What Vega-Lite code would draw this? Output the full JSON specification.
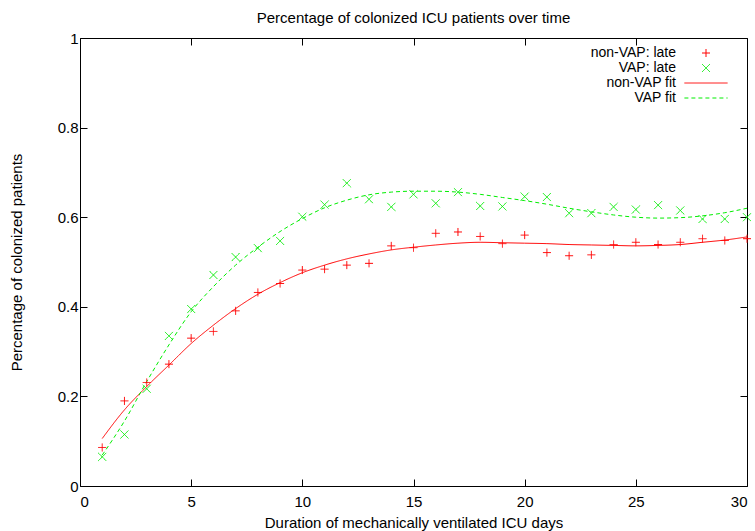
{
  "$schema": "https://vega.github.io/schema/vega-lite/v6.json",
  "width": 667,
  "height": 448,
  "autosize": {"type": "none"},
  "padding": {"left": 80, "top": 38, "right": 8, "bottom": 45},
  "background": "white",
  "config": {
    "font": "Liberation Sans",
    "view": {"stroke": "#000000", "strokeWidth": 1},
    "axis": {"grid": false, "domain": false, "tickColor": "#000000", "tickWidth": 1, "labelColor": "#000000", "titleColor": "#000000", "labelFontSize": 15, "titleFontSize": 15, "titleFontWeight": "normal", "labelFont": "Liberation Sans", "titleFont": "Liberation Sans"}
  },
  "title": {"text": "Percentage of colonized ICU patients over time", "fontSize": 15, "fontWeight": "normal", "color": "#000000", "font": "Liberation Sans", "offset": 5},
  "datasets": {
    "obs": [
      {"day": 1, "series": "non-VAP: late", "value": 0.086},
      {"day": 2, "series": "non-VAP: late", "value": 0.190},
      {"day": 3, "series": "non-VAP: late", "value": 0.231},
      {"day": 4, "series": "non-VAP: late", "value": 0.272},
      {"day": 5, "series": "non-VAP: late", "value": 0.330},
      {"day": 6, "series": "non-VAP: late", "value": 0.345},
      {"day": 7, "series": "non-VAP: late", "value": 0.391},
      {"day": 8, "series": "non-VAP: late", "value": 0.432},
      {"day": 9, "series": "non-VAP: late", "value": 0.452},
      {"day": 10, "series": "non-VAP: late", "value": 0.482},
      {"day": 11, "series": "non-VAP: late", "value": 0.484},
      {"day": 12, "series": "non-VAP: late", "value": 0.493},
      {"day": 13, "series": "non-VAP: late", "value": 0.497},
      {"day": 14, "series": "non-VAP: late", "value": 0.536},
      {"day": 15, "series": "non-VAP: late", "value": 0.532},
      {"day": 16, "series": "non-VAP: late", "value": 0.564},
      {"day": 17, "series": "non-VAP: late", "value": 0.567},
      {"day": 18, "series": "non-VAP: late", "value": 0.557},
      {"day": 19, "series": "non-VAP: late", "value": 0.541},
      {"day": 20, "series": "non-VAP: late", "value": 0.560},
      {"day": 21, "series": "non-VAP: late", "value": 0.521},
      {"day": 22, "series": "non-VAP: late", "value": 0.514},
      {"day": 23, "series": "non-VAP: late", "value": 0.516},
      {"day": 24, "series": "non-VAP: late", "value": 0.539},
      {"day": 25, "series": "non-VAP: late", "value": 0.544},
      {"day": 26, "series": "non-VAP: late", "value": 0.539},
      {"day": 27, "series": "non-VAP: late", "value": 0.544},
      {"day": 28, "series": "non-VAP: late", "value": 0.552},
      {"day": 29, "series": "non-VAP: late", "value": 0.548},
      {"day": 30, "series": "non-VAP: late", "value": 0.552},
      {"day": 1, "series": "VAP: late", "value": 0.065},
      {"day": 2, "series": "VAP: late", "value": 0.115},
      {"day": 3, "series": "VAP: late", "value": 0.217},
      {"day": 4, "series": "VAP: late", "value": 0.335},
      {"day": 5, "series": "VAP: late", "value": 0.395},
      {"day": 6, "series": "VAP: late", "value": 0.471},
      {"day": 7, "series": "VAP: late", "value": 0.511},
      {"day": 8, "series": "VAP: late", "value": 0.531},
      {"day": 9, "series": "VAP: late", "value": 0.547},
      {"day": 10, "series": "VAP: late", "value": 0.601},
      {"day": 11, "series": "VAP: late", "value": 0.628},
      {"day": 12, "series": "VAP: late", "value": 0.676},
      {"day": 13, "series": "VAP: late", "value": 0.640},
      {"day": 14, "series": "VAP: late", "value": 0.623},
      {"day": 15, "series": "VAP: late", "value": 0.651},
      {"day": 16, "series": "VAP: late", "value": 0.631},
      {"day": 17, "series": "VAP: late", "value": 0.656},
      {"day": 18, "series": "VAP: late", "value": 0.625},
      {"day": 19, "series": "VAP: late", "value": 0.624},
      {"day": 20, "series": "VAP: late", "value": 0.646},
      {"day": 21, "series": "VAP: late", "value": 0.645},
      {"day": 22, "series": "VAP: late", "value": 0.609},
      {"day": 23, "series": "VAP: late", "value": 0.609},
      {"day": 24, "series": "VAP: late", "value": 0.623},
      {"day": 25, "series": "VAP: late", "value": 0.617},
      {"day": 26, "series": "VAP: late", "value": 0.627},
      {"day": 27, "series": "VAP: late", "value": 0.615},
      {"day": 28, "series": "VAP: late", "value": 0.596},
      {"day": 29, "series": "VAP: late", "value": 0.596},
      {"day": 30, "series": "VAP: late", "value": 0.600}
    ],
    "fit": [
      {"day": 1, "series": "non-VAP fit", "value": 0.106},
      {"day": 2, "series": "non-VAP fit", "value": 0.170},
      {"day": 3, "series": "non-VAP fit", "value": 0.222},
      {"day": 4, "series": "non-VAP fit", "value": 0.270},
      {"day": 5, "series": "non-VAP fit", "value": 0.318},
      {"day": 6, "series": "non-VAP fit", "value": 0.359},
      {"day": 7, "series": "non-VAP fit", "value": 0.396},
      {"day": 8, "series": "non-VAP fit", "value": 0.428},
      {"day": 9, "series": "non-VAP fit", "value": 0.454},
      {"day": 10, "series": "non-VAP fit", "value": 0.476},
      {"day": 11, "series": "non-VAP fit", "value": 0.493},
      {"day": 12, "series": "non-VAP fit", "value": 0.507},
      {"day": 13, "series": "non-VAP fit", "value": 0.518},
      {"day": 14, "series": "non-VAP fit", "value": 0.527},
      {"day": 15, "series": "non-VAP fit", "value": 0.533},
      {"day": 16, "series": "non-VAP fit", "value": 0.538},
      {"day": 17, "series": "non-VAP fit", "value": 0.542},
      {"day": 18, "series": "non-VAP fit", "value": 0.544},
      {"day": 19, "series": "non-VAP fit", "value": 0.543},
      {"day": 20, "series": "non-VAP fit", "value": 0.542},
      {"day": 21, "series": "non-VAP fit", "value": 0.541},
      {"day": 22, "series": "non-VAP fit", "value": 0.539},
      {"day": 23, "series": "non-VAP fit", "value": 0.538},
      {"day": 24, "series": "non-VAP fit", "value": 0.537},
      {"day": 25, "series": "non-VAP fit", "value": 0.536},
      {"day": 26, "series": "non-VAP fit", "value": 0.537},
      {"day": 27, "series": "non-VAP fit", "value": 0.539},
      {"day": 28, "series": "non-VAP fit", "value": 0.544},
      {"day": 29, "series": "non-VAP fit", "value": 0.549},
      {"day": 30, "series": "non-VAP fit", "value": 0.556},
      {"day": 1, "series": "VAP fit", "value": 0.069},
      {"day": 2, "series": "VAP fit", "value": 0.145},
      {"day": 3, "series": "VAP fit", "value": 0.233},
      {"day": 4, "series": "VAP fit", "value": 0.315},
      {"day": 5, "series": "VAP fit", "value": 0.389},
      {"day": 6, "series": "VAP fit", "value": 0.445},
      {"day": 7, "series": "VAP fit", "value": 0.493},
      {"day": 8, "series": "VAP fit", "value": 0.533},
      {"day": 9, "series": "VAP fit", "value": 0.568},
      {"day": 10, "series": "VAP fit", "value": 0.597},
      {"day": 11, "series": "VAP fit", "value": 0.621},
      {"day": 12, "series": "VAP fit", "value": 0.638},
      {"day": 13, "series": "VAP fit", "value": 0.650},
      {"day": 14, "series": "VAP fit", "value": 0.656},
      {"day": 15, "series": "VAP fit", "value": 0.658},
      {"day": 16, "series": "VAP fit", "value": 0.658},
      {"day": 17, "series": "VAP fit", "value": 0.656},
      {"day": 18, "series": "VAP fit", "value": 0.651},
      {"day": 19, "series": "VAP fit", "value": 0.644},
      {"day": 20, "series": "VAP fit", "value": 0.637},
      {"day": 21, "series": "VAP fit", "value": 0.629},
      {"day": 22, "series": "VAP fit", "value": 0.620},
      {"day": 23, "series": "VAP fit", "value": 0.612},
      {"day": 24, "series": "VAP fit", "value": 0.605},
      {"day": 25, "series": "VAP fit", "value": 0.600},
      {"day": 26, "series": "VAP fit", "value": 0.598},
      {"day": 27, "series": "VAP fit", "value": 0.599},
      {"day": 28, "series": "VAP fit", "value": 0.603},
      {"day": 29, "series": "VAP fit", "value": 0.610},
      {"day": 30, "series": "VAP fit", "value": 0.620}
    ]
  },
  "layer": [
    {
      "layer": [
        {
          "data": {"name": "fit"},
          "mark": {"type": "line", "strokeWidth": 1, "interpolate": "monotone"},
          "encoding": {
            "x": {"field": "day", "type": "quantitative", "scale": {"domain": [0, 30], "nice": false}, "axis": {"orient": "bottom", "title": "Duration of mechanically ventilated ICU days", "values": [0, 5, 10, 15, 20, 25, 30], "tickSize": -7, "labelPadding": 15, "titlePadding": 6}},
            "y": {"field": "value", "type": "quantitative", "scale": {"domain": [0, 1], "nice": false}, "axis": {"orient": "left", "title": "Percentage of colonized patients", "values": [0, 0.2, 0.4, 0.6, 0.8, 1], "format": "~g", "tickSize": -7, "labelPadding": 9, "titlePadding": 33}},
            "color": {"field": "series", "type": "nominal", "scale": {"domain": ["non-VAP: late", "VAP: late", "non-VAP fit", "VAP fit"], "range": ["#ff0000", "#00ee00", "#ff0000", "#00ee00"]}, "legend": {"title": null, "orient": "none", "legendX": 619, "legendY": 8, "padding": 0, "symbolSize": 64, "symbolStrokeWidth": 1, "labelAlign": "right", "labelOffset": -37, "labelFontSize": 14, "labelColor": "#000000", "labelFont": "Liberation Sans", "rowPadding": 1, "labelLimit": 300}},
            "strokeDash": {"field": "series", "type": "nominal", "scale": {"domain": ["non-VAP: late", "VAP: late", "non-VAP fit", "VAP fit"], "range": [[1, 0], [1, 0], [1, 0], [4, 3]]}}
          }
        },
        {
          "data": {"name": "obs"},
          "mark": {"type": "point", "filled": false, "size": 64, "strokeWidth": 1, "opacity": 1},
          "encoding": {
            "x": {"field": "day", "type": "quantitative"},
            "y": {"field": "value", "type": "quantitative"},
            "color": {"field": "series", "type": "nominal"},
            "shape": {"field": "series", "type": "nominal", "scale": {"domain": ["non-VAP: late", "VAP: late", "non-VAP fit", "VAP fit"], "range": ["M-1,0L1,0M0,-1L0,1", "M-1,-1L1,1M-1,1L1,-1", "M-5.4,0L5.4,0", "M-5.4,0L5.4,0"]}},
            "strokeDash": {"field": "series", "type": "nominal"}
          }
        }
      ]
    },
    {
      "data": {"name": "obs"},
      "mark": {"type": "point", "opacity": 0},
      "encoding": {
        "x": {"field": "day", "type": "quantitative", "scale": {"domain": [0, 30], "nice": false}, "axis": {"orient": "top", "title": null, "labels": false, "values": [0, 5, 10, 15, 20, 25, 30], "tickSize": -7}},
        "y": {"field": "value", "type": "quantitative", "scale": {"domain": [0, 1], "nice": false}, "axis": {"orient": "right", "title": null, "labels": false, "values": [0, 0.2, 0.4, 0.6, 0.8, 1], "tickSize": -7}}
      }
    }
  ],
  "resolve": {"scale": {"x": "independent", "y": "independent"}}
}
